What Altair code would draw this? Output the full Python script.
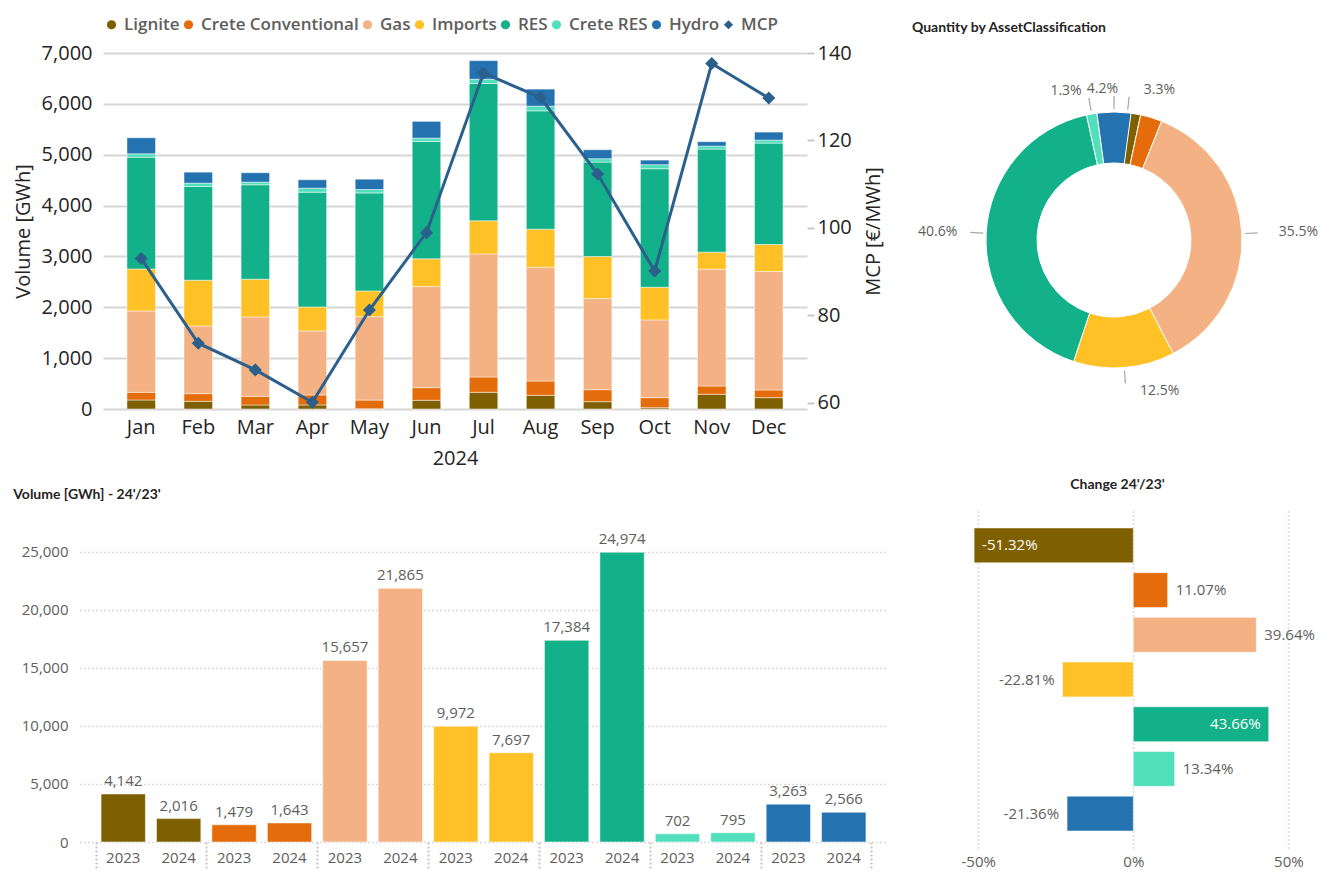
import altair as alt
import pandas as pd

# ---------------- data ----------------
months = ["Jan", "Feb", "Mar", "Apr", "May", "Jun", "Jul", "Aug", "Sep", "Oct", "Nov", "Dec"]
series_names = ["Lignite", "Crete Conventional", "Gas", "Imports", "RES", "Crete RES", "Hydro"]
series_colors = ["#7F6000", "#E46C0A", "#F4B183", "#FFC125", "#13B189", "#52DFBC", "#2473B0"]
mcp_name = "MCP"
mcp_color = "#2B5F8C"

lignite = [177, 151, 79, 79, 5, 171, 328, 269, 144, 26, 289, 223]
crete_conv = [150, 151, 170, 197, 171, 249, 302, 282, 236, 197, 164, 151]
gas = [1600, 1331, 1562, 1259, 1640, 1988, 2420, 2237, 1791, 1529, 2296, 2329]
imports = [826, 899, 741, 472, 505, 544, 650, 748, 827, 642, 334, 531]
res = [2198, 1844, 1857, 2257, 1928, 2310, 2700, 2327, 1857, 2330, 2027, 1994]
crete_res = [67, 65, 52, 79, 67, 65, 84, 92, 66, 79, 59, 59]
hydro = [315, 216, 185, 165, 203, 329, 366, 335, 177, 91, 87, 158]
mcp = [93.0, 73.6, 67.5, 60.1, 81.2, 98.9, 135.4, 129.8, 112.3, 90.1, 137.6, 129.7]

years = ["2023", "2024"]
vol_2023 = [4142, 1479, 15657, 9972, 17384, 702, 3263]
vol_2024 = [2016, 1643, 21865, 7697, 24974, 795, 2566]
change_pct = [-51.32, 11.07, 39.64, -22.81, 43.66, 13.34, -21.36]

# ---------------- tables ----------------
monthly = [lignite, crete_conv, gas, imports, res, crete_res, hydro]
rows = []
for si, s in enumerate(series_names):
    for mi, m in enumerate(months):
        rows.append({"month": m, "series": s, "idx": si, "value": monthly[si][mi]})
df_stack = pd.DataFrame(rows)
df_mcp = pd.DataFrame({"month": months, "mcp": mcp, "series": [mcp_name] * len(months)})

df_donut = pd.DataFrame({"series": series_names, "idx": list(range(len(series_names))), "v": vol_2024})

vrows = []
for ci, c in enumerate(series_names):
    vrows.append({"cat": c, "year": years[0], "vol": vol_2023[ci]})
    vrows.append({"cat": c, "year": years[1], "vol": vol_2024[ci]})
df_vol = pd.DataFrame(vrows)

df_chg = pd.DataFrame({"cat": series_names, "chg": [c / 100 for c in change_pct]})

# ---------------- style ----------------
FONT = "Open Sans"
TFONT = "Lato"
DARK = "#252423"
GREY = "#605E5C"

legend_domain = series_names + [mcp_name]
legend_range = series_colors + [mcp_color]
legend = alt.Legend(
    orient="top", direction="horizontal", title=None,
    labelFont=FONT, labelFontSize=17, labelFontWeight=600, labelColor=GREY,
    symbolSize=85, symbolStrokeWidth=0, columnPadding=0, labelOffset=4,
    offset=20, padding=0,
)
color_scale = alt.Scale(domain=legend_domain, range=legend_range)
shape_scale = alt.Scale(domain=legend_domain, range=["circle"] * 7 + ["diamond"])

xscale = alt.Scale(domain=months, paddingInner=0.5, paddingOuter=0.42)

bars = alt.Chart(df_stack).mark_bar(stroke="white", strokeWidth=0.8, strokeOpacity=0.6).encode(
    x=alt.X("month:N", scale=xscale, axis=alt.Axis(
        title="2024", labelAngle=0, labelFont=FONT, labelFontSize=20, labelColor=DARK,
        labelPadding=8, ticks=False, domain=False, titleFont=FONT, titleFontSize=20,
        titleFontWeight="normal", titleColor=DARK, titlePadding=11)),
    y=alt.Y("value:Q", stack="zero", scale=alt.Scale(domain=[0, 7000], nice=False),
            axis=alt.Axis(title="Volume [GWh]", values=list(range(0, 7001, 1000)), format=",.0f",
                          labelFont=FONT, labelFontSize=20, labelColor=DARK, labelPadding=11,
                          ticks=False, domain=False, grid=True, gridColor="#D6D6D6", gridWidth=2,
                          titleFont=FONT, titleFontSize=20, titleFontWeight="normal",
                          titleColor=DARK, titlePadding=8)),
    color=alt.Color("series:N", scale=alt.Scale(domain=series_names, range=series_colors), legend=None),
    order=alt.Order("idx:Q", sort="ascending"),
)

mcp_y = alt.Scale(domain=[58.55, 140], nice=False, zero=False)
line = alt.Chart(df_mcp).mark_line(color=mcp_color, strokeWidth=3).encode(
    x=alt.X("month:N", scale=xscale),
    y=alt.Y("mcp:Q", scale=mcp_y, axis=alt.Axis(
        orient="right", title="MCP [€/MWh]", values=[60, 80, 100, 120, 140],
        labelFont=FONT, labelFontSize=20, labelColor=DARK, labelPadding=3,
        ticks=True, tickSize=7, tickWidth=2, tickColor="#C8C8C8", domain=False, grid=False,
        titleFont=FONT, titleFontSize=20, titleFontWeight="normal", titleColor=DARK,
        titleAngle=270, titleBaseline="top", titlePadding=12)),
)
pts = alt.Chart(df_mcp).mark_point(filled=True, size=170, opacity=1).encode(
    x=alt.X("month:N", scale=xscale),
    y=alt.Y("mcp:Q", scale=mcp_y, axis=None),
    color=alt.Color("series:N", scale=color_scale, legend=legend),
    shape=alt.Shape("series:N", scale=shape_scale, legend=legend),
)

top_left = alt.layer(bars, line, pts).resolve_scale(
    y="independent", color="independent", shape="independent"
).properties(width=704, height=356)

# ---------------- donut ----------------
theta_scale = alt.Scale(nice=False, zero=True)
dbase = alt.Chart(df_donut).transform_joinaggregate(total="sum(v)").transform_window(
    cum="sum(v)", sort=[alt.SortField("idx", order="ascending")]
).transform_calculate(
    start="datum.cum - datum.v",
    mid="datum.cum - datum.v / 2",
    pct="datum.v / datum.total",
    t1="datum.cum - datum.v / 2 - datum.total * 0.0007",
    t2="datum.cum - datum.v / 2 + datum.total * 0.0007",
    frac="(datum.cum - datum.v / 2) / datum.total",
)
arcs = dbase.mark_arc(innerRadius=77, outerRadius=128, stroke="white", strokeWidth=1).encode(
    theta=alt.Theta("start:Q", scale=theta_scale),
    theta2="cum:Q",
    color=alt.Color("series:N", scale=alt.Scale(domain=series_names, range=series_colors), legend=None),
)
lab_base = dbase.transform_filter("datum.series != 'Crete Conventional'")
leaders = lab_base.mark_arc(innerRadius=131, outerRadius=144, color="#A8A8A8").encode(
    theta=alt.Theta("t1:Q", scale=theta_scale), theta2="t2:Q")

def dlabel(filt, align, dx=0):
    return lab_base.transform_filter(filt).mark_text(
        radius=151, align=align, dx=dx, baseline="middle", font=FONT, fontSize=14,
        color=GREY).encode(
        theta=alt.Theta("mid:Q", scale=theta_scale), text=alt.Text("pct:Q", format=".1%"))

donut = alt.layer(
    arcs, leaders,
    dlabel("datum.frac < 0.5", "left", 14),
    dlabel("datum.frac >= 0.5 && datum.frac < 0.97", "right", -6),
    dlabel("datum.frac >= 0.97", "right", 4),
).properties(
    width=408, height=374,
    title=alt.Title("Quantity by AssetClassification", anchor="start", font=TFONT, fontSize=14,
                    fontWeight="bold", color=DARK, offset=18, dx=2),
)

# ---------------- volume 23 vs 24 ----------------
BL_H = 331
cat_scale = alt.Scale(domain=series_names, range=series_colors)
xcat = alt.Scale(domain=series_names, paddingInner=0, paddingOuter=0.14)
xoff = alt.Scale(domain=years, paddingInner=0.2, paddingOuter=0.1)
vbase = alt.Chart(df_vol)
vbars = vbase.mark_bar(stroke="white", strokeWidth=1, strokeOpacity=0.5).encode(
    x=alt.X("cat:N", scale=xcat, axis=alt.Axis(
        title=None, labels=False, ticks=True, tickBand="extent", tickSize=26, tickDash=[2, 2],
        tickColor="#C8C6C4", tickWidth=2, domain=False, grid=False)),
    xOffset=alt.XOffset("year:N", scale=xoff),
    y=alt.Y("vol:Q", scale=alt.Scale(domain=[0, 28534], nice=False), axis=alt.Axis(
        title=None, values=list(range(0, 25001, 5000)), format=",.0f", grid=True, gridDash=[1, 3],
        gridColor="#B8B8B8", gridWidth=1.5, ticks=False, domain=False, labelFont=FONT,
        labelFontSize=15, labelColor=GREY, labelPadding=12)),
    color=alt.Color("cat:N", scale=cat_scale, legend=None),
)
vlabels = vbase.mark_text(dy=-5, baseline="bottom", font=FONT, fontSize=15, color=GREY).encode(
    x=alt.X("cat:N", scale=xcat), xOffset=alt.XOffset("year:N", scale=xoff),
    y=alt.Y("vol:Q"), text=alt.Text("vol:Q", format=",.0f"))
vyears = vbase.mark_text(baseline="middle", font=FONT, fontSize=15, color=GREY).encode(
    x=alt.X("cat:N", scale=xcat), xOffset=alt.XOffset("year:N", scale=xoff),
    y=alt.value(BL_H + 16), text="year:N")
vol_chart = alt.layer(vbars, vlabels, vyears).properties(
    width=807, height=BL_H,
    title=alt.Title("Volume [GWh] - 24'/23'", anchor="start", frame="bounds", font=TFONT,
                    fontSize=14, fontWeight="bold", color=DARK, offset=9, dx=-8),
)

# ---------------- change ----------------
ycat = alt.Scale(domain=series_names, paddingInner=0.22, paddingOuter=0.38)
xchg = alt.Scale(domain=[-0.52, 0.56], nice=False, zero=False)
cbase = alt.Chart(df_chg).transform_calculate(
    lbl="(datum.chg < 0 ? '-' : '') + format(abs(datum.chg) * 100, '.2f') + '%'",
    inside="abs(datum.chg) > 0.42",
)
cbars = cbase.mark_bar(stroke="white", strokeWidth=1, strokeOpacity=0.5).encode(
    y=alt.Y("cat:N", scale=ycat, axis=None),
    x=alt.X("chg:Q", scale=xchg, axis=alt.Axis(
        title=None, values=[-0.5, 0, 0.5], labelExpr="round(datum.value * 100) + '%'",
        grid=True, gridDash=[1, 3], gridColor="#B8B8B8", gridWidth=1.5, ticks=False, domain=False,
        labelFont=FONT, labelFontSize=15, labelColor=GREY, labelPadding=6)),
    color=alt.Color("cat:N", scale=cat_scale, legend=None),
)
def clabel(filt, align, dx, color):
    return cbase.transform_filter(filt).mark_text(
        align=align, dx=dx, baseline="middle", font=FONT, fontSize=15, color=color).encode(
        y=alt.Y("cat:N", scale=ycat), x=alt.X("chg:Q", scale=xchg), text="lbl:N")

chg_chart = alt.layer(
    cbars,
    clabel("!datum.inside && datum.chg < 0", "right", -8, GREY),
    clabel("!datum.inside && datum.chg >= 0", "left", 8, GREY),
    clabel("datum.inside && datum.chg < 0", "left", 8, "white"),
    clabel("datum.inside && datum.chg >= 0", "right", -8, "white"),
).properties(
    width=335, height=337,
    title=alt.Title("Change 24'/23'", anchor="middle", font=TFONT, fontSize=14,
                    fontWeight="bold", color=DARK, offset=19, dx=-22),
)

# layout spacers (empty, invisible) so that each row starts at the same left edge
def spacer():
    return alt.Chart(pd.DataFrame({"a": []})).mark_point(opacity=0).properties(width=1, height=1)

top_row = alt.hconcat(alt.hconcat(spacer(), top_left, spacing=0), donut, spacing=26)
bottom_row = alt.hconcat(alt.hconcat(spacer(), vol_chart, spacing=0), chg_chart, spacing=74)

chart = alt.vconcat(top_row, bottom_row, spacing=10).properties(
    padding={"left": 4, "top": 8, "right": 0, "bottom": 0}
).configure(font=FONT).configure_view(stroke="transparent", strokeWidth=0)

chart.save("out.html", embed_options={"renderer": "svg", "actions": False})
